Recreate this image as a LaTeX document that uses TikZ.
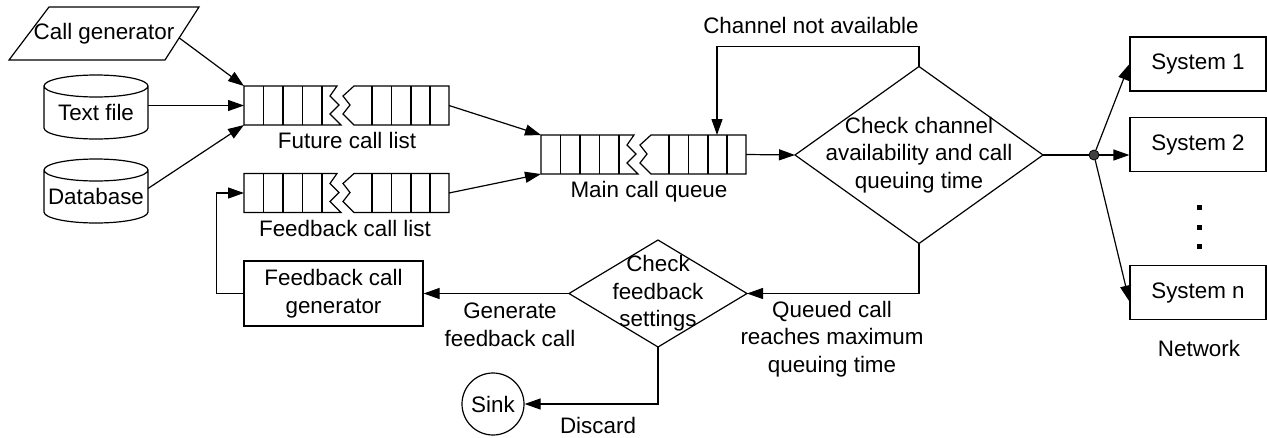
\documentclass[tikz,border=0pt]{standalone}
\usepackage{fontspec}
\setmainfont{Liberation Sans}
\usetikzlibrary{arrows.meta,calc}

\tikzset{
  every node/.style={font=\fontsize{22.4}{27.5}\selectfont},
  ln/.style={line width=1.2pt},
  arr/.style={line width=1.2pt, -{Triangle[length=16pt,width=11pt]}},
  shell/.style={inner sep=0pt, outer sep=0pt, align=center},
  sysbox/.style={draw, line width=1.2pt, inner sep=0pt, minimum width=136pt, minimum height=54pt},
  lbl/.style={align=center, inner sep=0pt},
  qslot/.style={inner sep=0pt, outer sep=0pt, minimum width=205pt, minimum height=39pt},
  drum/.style={inner sep=0pt, outer sep=0pt, minimum width=104pt, minimum height=53pt},
}

% broken queue drawn inside the frame of node #1
\newcommand\queueoutline[1]{%
  \begin{scope}[shift={(#1.north west)}, ln, line join=miter]
    \draw (93,0) -- (0,0) -- (0,39) -- (97,39) -- (86,28) -- (95,19) -- (86,10) -- cycle;
    \foreach \cx in {19.5,39,58.5,78} \draw (\cx,0) -- (\cx,39);
    \draw (110,0) -- (205,0) -- (205,39) -- (110,39) -- (99,28) -- (106,19) -- (99,10) -- cycle;
    \foreach \cx in {128,147.5,167,186} \draw (\cx,0) -- (\cx,39);
  \end{scope}}

% cylinder around node #1 (north = centre of the top ellipse)
\newcommand\drumoutline[1]{%
  \draw[ln] (#1.north west) -- ($(#1.south west)+(0,-11)$)
    arc[start angle=180, end angle=360, x radius=52pt, y radius=11pt]
    -- (#1.north east)
    arc[start angle=0, end angle=360, x radius=52pt, y radius=11pt];}

\begin{document}
\begin{tikzpicture}[x=1pt, y=-1pt]
\useasboundingbox (0,0) rectangle (1267,437);

% sources
\node[shell, minimum width=190pt, minimum height=53pt] (cg) at (104,33.5) {Call generator};
\draw[ln] ($(cg.north west)+(40,0)$) -- (cg.north east) -- ($(cg.south east)+(-34,0)$) -- (cg.south west) -- cycle;
\coordinate (cgout) at ($(cg.north east)!0.58!(cg.south east)+(-20,0)$);

\node[drum] (tf) at (96,112.5) {Text file};
\drumoutline{tf}
\node[drum] (db) at (96,196.5) {Database};
\drumoutline{db}

% queues
\node[qslot] (fq) at (346.5,105.5) {};
\queueoutline{fq}
\node[lbl] (lfut) at (347,140) {Future call list};

\node[qslot] (fl) at (346.5,193) {};
\queueoutline{fl}
\node[lbl] (lfb) at (345,228) {Feedback call list};

\node[qslot] (mq) at (643.5,154.5) {};
\queueoutline{mq}
\node[lbl] (lmain) at (649,192) {Main call queue};
\coordinate (mqin) at ($(mq.north west)+(176,0)$);

% decisions
\node[shell, minimum width=248pt, minimum height=177pt] (d1) at (919,155) {Check channel\\availability and call\\queuing time};
\draw[ln] (d1.north) -- (d1.east) -- (d1.south) -- (d1.west) -- cycle;

\node[shell, minimum width=178pt, minimum height=107pt] (d2) at (658,293.5) {Check\\feedback\\settings};
\draw[ln] (d2.north) -- (d2.east) -- (d2.south) -- (d2.west) -- cycle;

\node[draw, ln, inner sep=0pt, minimum width=179pt, minimum height=65pt, align=center] (fcg) at (333.5,293.5) {Feedback call\\generator};

\node[draw, ln, circle, inner sep=0pt, minimum size=62pt] (sink) at (493,404) {Sink};

% network
\node[sysbox] (s1) at (1198,64) {System 1};
\node[sysbox] (s2) at (1198,144.5) {System 2};
\node[sysbox] (sn) at (1198,292.5) {System n};
\node[circle, draw, line width=0.8pt, fill=black!75, inner sep=0pt, minimum size=10pt] (dot) at (1094,155) {};
\foreach \vy [count=\k] in {207,227,246}
  \node[fill=black, inner sep=0pt, minimum size=5pt] (vd\k) at (1199,\vy) {};
\node[lbl] (lnet) at (1199,348) {Network};

% labels
\node[lbl] (lna) at (811,25) {Channel not available};
\node[lbl] (lgen) at (510,325) {Generate\\feedback call};
\node[lbl] (lq) at (832,339) {Queued call\\reaches maximum\\queuing time};
\node[lbl] (ldis) at (598,425) {Discard};

% connectors
\draw[arr] (cgout) -- (fq.north west);
\draw[arr] (tf.east |- fq.west) -- (fq.west);
\draw[arr] ([yshift=8pt]db.east) -- (fq.south west);
\draw[arr] (fq.east) -- (mq.north west);
\draw[arr] (fl.east) -- (mq.south west);
\draw[arr] (mq.east) -- (d1.west);
\draw[arr] (d1.north) -- ++(0,-20) -| (mqin);
\draw[arr] (d1.south) |- (d2.east);
\draw[arr] (d2.west) -- (fcg.east);
\draw[arr] (fcg.west) -- ++(-27,0) |- (fl.west);
\draw[arr] (d2.south) |- (sink.east);
\draw[ln] (d1.east) -- (dot);
\draw[arr] (dot) -- (s1.west);
\draw[arr] (dot) -- (dot -| s2.west);
\draw[arr] (dot) -- ([yshift=-9pt]sn.west);
\end{tikzpicture}
\end{document}
